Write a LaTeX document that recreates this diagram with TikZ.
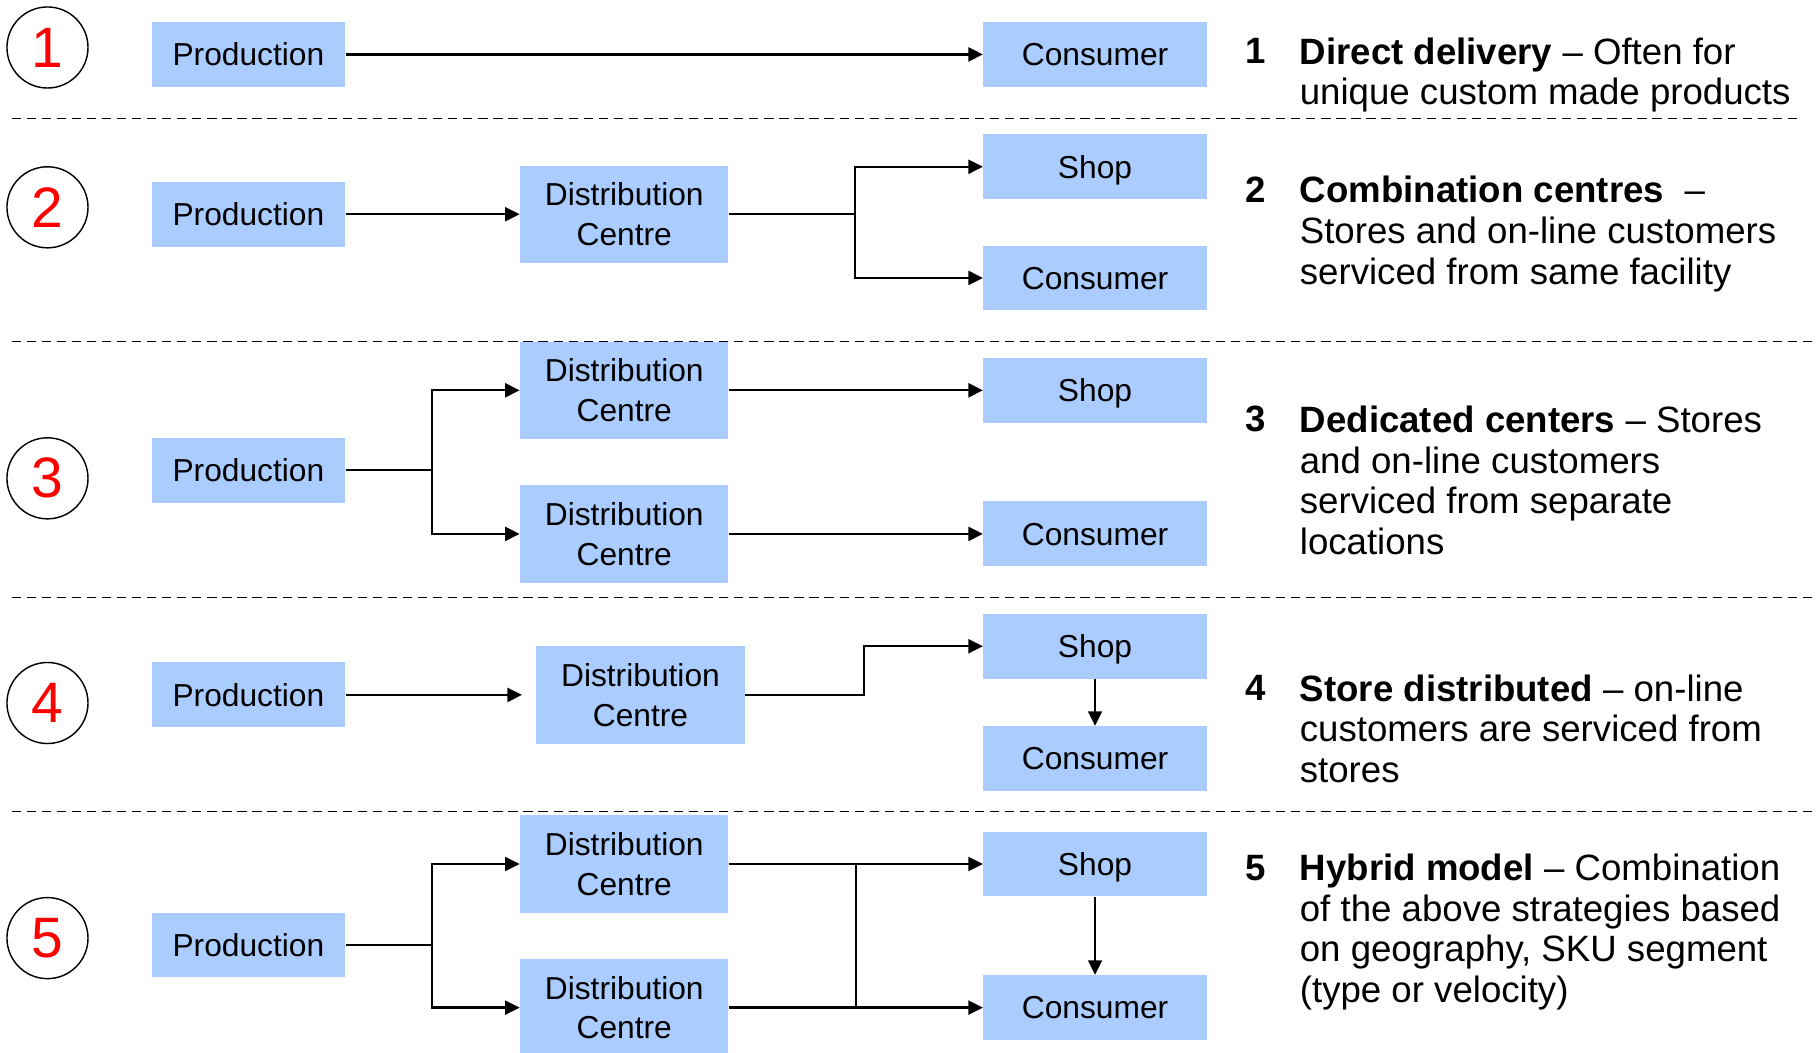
\documentclass[tikz,border=0pt]{standalone}
\usepackage{fontspec}
\setmainfont{Liberation Sans}
\usetikzlibrary{arrows.meta}
\definecolor{boxblue}{RGB}{170,204,255}
\begin{document}
\begin{tikzpicture}[x=0.02cm, y=-0.02cm,
  box/.style={fill=boxblue, inner sep=0pt, align=center, font=\fontsize{15.6}{19.5}\selectfont},
  prod/.style={box, minimum width=3.34cm, minimum height=1.12cm, text height=0.5cm, text depth=0.11cm},
  dc/.style={box, minimum width=3.6cm, minimum height=1.68cm},
  dest/.style={box, minimum width=3.86cm, minimum height=1.12cm, text height=0.5cm, text depth=0.11cm},
  num/.style={draw, circle, line width=0.7pt, minimum size=1.4cm, inner sep=0pt, text=red, font=\fontsize{28}{28}\selectfont},
  arr/.style={line width=1.15pt, -{Triangle[length=0.25cm, width=0.24cm]}},
  ln/.style={line width=1.15pt},
  sep/.style={line width=0.6pt, dash pattern=on 0.16cm off 0.1cm},
  idx/.style={anchor=base west, inner sep=0pt, font=\fontsize{18}{20}\selectfont\bfseries},
  desc/.style={anchor=north west, inner sep=0pt, align=left, font=\fontsize{18}{20}\selectfont}]
  \useasboundingbox (0,0) rectangle (1568,909);

  % Row 1
  \node[num] (n1) at (41,41) {1};
  \node[prod] (p1) at (214.5,47) {Production};
  \node[dest] (c1) at (945.5,47) {Consumer};
  \draw[arr] (p1) -- (c1);
  \node[idx] (i1) at (1075,55) {1};
  \node[desc] (t1) at (1122,32) {\textbf{Direct delivery} – Often for\\unique custom made products};
  \draw[sep] (10,102) -- (1552,102);

  % Row 2
  \node[num] (n2) at (41,179) {2};
  \node[prod] (p2) at (214.5,185) {Production};
  \node[dc] (d2) at (539,185) {Distribution\\Centre};
  \node[dest] (s2) at (945.5,144) {Shop};
  \node[dest] (c2) at (945.5,240) {Consumer};
  \coordinate (j2) at (738,185);
  \draw[arr] (p2) -- (d2);
  \draw[ln] (d2) -- (j2);
  \draw[arr] (j2) |- (s2);
  \draw[arr] (j2) |- (c2);
  \node[idx] (i2) at (1075,175) {2};
  \node[desc] (t2) at (1122,152) {\textbf{Combination centres} \ –\\Stores and on-line customers\\serviced from same facility};
  \draw[sep] (10,295) -- (1565,295);

  % Row 3
  \node[num] (n3) at (41,413) {3};
  \node[prod] (p3) at (214.5,406) {Production};
  \node[dc] (d3a) at (539,337) {Distribution\\Centre};
  \node[dc] (d3b) at (539,461) {Distribution\\Centre};
  \node[dest] (s3) at (945.5,337) {Shop};
  \node[dest] (c3) at (945.5,461) {Consumer};
  \coordinate (j3) at (373,406);
  \draw[ln] (p3) -- (j3);
  \draw[arr] (j3) |- (d3a);
  \draw[arr] (j3) |- (d3b);
  \draw[arr] (d3a) -- (s3);
  \draw[arr] (d3b) -- (c3);
  \node[idx] (i3) at (1075,373) {3};
  \node[desc] (t3) at (1122,350) {\textbf{Dedicated centers} – Stores\\and on-line customers\\serviced from separate\\locations};
  \draw[sep] (10,516) -- (1565,516);

  % Row 4
  \node[num] (n4) at (41,607) {4};
  \node[prod] (p4) at (214.5,600) {Production};
  \node[dc] (d4) at (553,600) {Distribution\\Centre};
  \node[dest] (s4) at (945.5,558) {Shop};
  \node[dest] (c4) at (945.5,655) {Consumer};
  \coordinate (j4) at (746,600);
  \draw[arr, shorten >=0.24cm] (p4) -- (d4);
  \draw[arr] (d4) -- (j4) |- (s4);
  \draw[arr] (s4) -- (c4);
  \node[idx] (i4) at (1075,605) {4};
  \node[desc] (t4) at (1122,582) {\textbf{Store distributed} – on-line\\customers are serviced from\\stores};
  \draw[sep] (10,701) -- (1565,701);

  % Row 5
  \node[num] (n5) at (41,810) {5};
  \node[prod] (p5) at (214.5,816) {Production};
  \node[dc] (d5a) at (539,746) {Distribution\\Centre};
  \node[dc] (d5b) at (539,870) {Distribution\\Centre};
  \node[dest] (s5) at (945.5,746) {Shop};
  \node[dest] (c5) at (945.5,870) {Consumer};
  \coordinate (j5) at (373,816);
  \coordinate (k5a) at (739,746);
  \coordinate (k5b) at (739,870);
  \draw[ln] (p5) -- (j5);
  \draw[arr] (j5) |- (d5a);
  \draw[arr] (j5) |- (d5b);
  \draw[arr] (d5a) -- (s5);
  \draw[arr] (d5b) -- (c5);
  \draw[ln] (k5a) -- (k5b);
  \draw[arr] (s5) -- (c5);
  \node[idx] (i5) at (1075,760) {5};
  \node[desc] (t5) at (1122,737) {\textbf{Hybrid model} – Combination\\of the above strategies based\\on geography, SKU segment\\(type or velocity)};
\end{tikzpicture}
\end{document}
